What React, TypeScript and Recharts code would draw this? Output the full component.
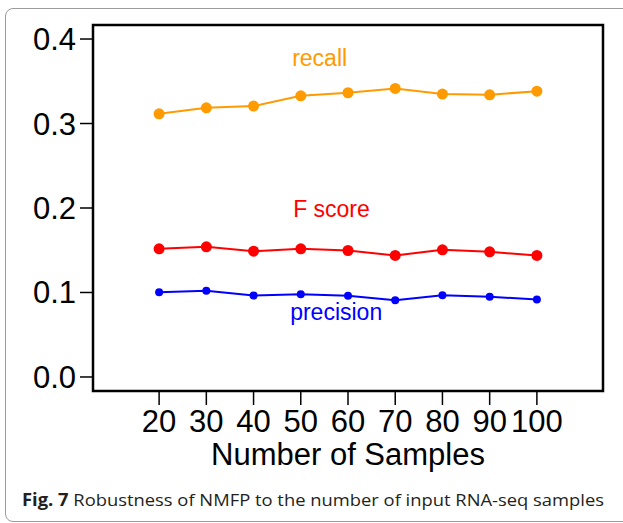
import React from 'react';
import { LineChart, Line, XAxis, YAxis, ReferenceArea, ReferenceDot } from 'recharts';

// values
const samples = [20, 30, 40, 50, 60, 70, 80, 90, 100];
const recall = [0.3115, 0.3186, 0.3206, 0.3328, 0.3364, 0.3415, 0.3348, 0.334, 0.3383];
const fScore = [0.1517, 0.154, 0.1489, 0.1517, 0.1497, 0.1438, 0.1505, 0.1481, 0.1438];
const precision = [0.1004, 0.102, 0.0964, 0.098, 0.0961, 0.0909, 0.0968, 0.0949, 0.0917];

const xTicks = [20, 30, 40, 50, 60, 70, 80, 90, 100];
const yTicks = [0, 0.1, 0.2, 0.3, 0.4];

// R style axis extents (4% padding around xlim / ylim)
const xDomain: [number, number] = [6, 114];
const yDomain: [number, number] = [-0.0166, 0.4166];

const ORANGE = '#ff9a00';
const RED = '#ff0000';
const BLUE = '#0000ff';
const FONT = '"Liberation Sans", Arial, Helvetica, sans-serif';

const data = samples.map((n, i) => ({
    n,
    recall: recall[i],
    fscore: fScore[i],
    precision: precision[i],
}));

export default function App() {
    return (
        <div style={{ position: 'absolute', left: 0, top: 0, width: 623, height: 523, background: '#fff', overflow: 'hidden' }}>
            {/* figure frame */}
            <div
                style={{
                    position: 'absolute',
                    left: 5,
                    top: 8,
                    width: 660,
                    height: 512,
                    border: '1.5px solid #9c9c9c',
                    borderRadius: 8,
                }}
            />
            <div style={{ position: 'absolute', left: 0, top: 0 }}>
                <LineChart
                    width={623}
                    height={523}
                    data={data}
                    margin={{ top: 25, right: 20, left: 8, bottom: 52 }}
                    style={{ fontFamily: FONT }}
                >
                    <XAxis
                        dataKey="n"
                        type="number"
                        domain={xDomain}
                        ticks={xTicks}
                        interval={0}
                        allowDataOverflow
                        axisLine={false}
                        tickLine={{ stroke: '#000', strokeWidth: 1.5 }}
                        tickSize={14}
                        tickMargin={5}
                        height={80}
                        tick={{ fontSize: 31, fill: '#000', fontFamily: FONT }}
                        label={{ value: 'Number of Samples', position: 'insideBottom', offset: 6, fontSize: 31, fill: '#000', fontFamily: FONT }}
                    />
                    <YAxis
                        type="number"
                        domain={yDomain}
                        ticks={yTicks}
                        interval={0}
                        allowDataOverflow
                        width={85}
                        axisLine={false}
                        tickLine={{ stroke: '#000', strokeWidth: 1.5 }}
                        tickSize={13}
                        tickMargin={4}
                        tickFormatter={(v: number) => v.toFixed(1)}
                        tick={{ fontSize: 31, fill: '#000', fontFamily: FONT }}
                    />
                    <ReferenceArea
                        x1={xDomain[0]}
                        x2={xDomain[1]}
                        y1={yDomain[0]}
                        y2={yDomain[1]}
                        fill="none"
                        fillOpacity={0}
                        stroke="#000"
                        strokeWidth={2.5}
                        ifOverflow="visible"
                    />
                    <Line
                        dataKey="recall"
                        type="linear"
                        stroke={ORANGE}
                        strokeWidth={2}
                        dot={{ r: 5.5, fill: ORANGE, stroke: 'none' }}
                        isAnimationActive={false}
                    />
                    <Line
                        dataKey="fscore"
                        type="linear"
                        stroke={RED}
                        strokeWidth={2}
                        dot={{ r: 5.5, fill: RED, stroke: 'none' }}
                        isAnimationActive={false}
                    />
                    <Line
                        dataKey="precision"
                        type="linear"
                        stroke={BLUE}
                        strokeWidth={2}
                        dot={{ r: 4, fill: BLUE, stroke: 'none' }}
                        isAnimationActive={false}
                    />
                    {/* series names written inside the plot */}
                    <ReferenceDot x={54} y={0.378} r={0} fill="none" stroke="none"
                        label={{ value: 'recall', position: 'center', fill: ORANGE, fontSize: 23, fontFamily: FONT }} />
                    <ReferenceDot x={56.5} y={0.199} r={0} fill="none" stroke="none"
                        label={{ value: 'F score', position: 'center', fill: RED, fontSize: 23, fontFamily: FONT }} />
                    <ReferenceDot x={57.5} y={0.077} r={0} fill="none" stroke="none"
                        label={{ value: 'precision', position: 'center', fill: BLUE, fontSize: 23, fontFamily: FONT }} />
                </LineChart>
            </div>
            <svg width={623} height={33} style={{ position: 'absolute', left: 0, top: 485 }}>
                <text
                    x={22}
                    y={21}
                    textLength={582}
                    lengthAdjust="spacingAndGlyphs"
                    fontFamily='"Open Sans", "Noto Sans", sans-serif'
                    fontSize={17}
                    fill="#231f20"
                >
                    <tspan fontWeight="bold">Fig. 7</tspan> Robustness of NMFP to the number of input RNA-seq samples
                </text>
            </svg>
        </div>
    );
}
